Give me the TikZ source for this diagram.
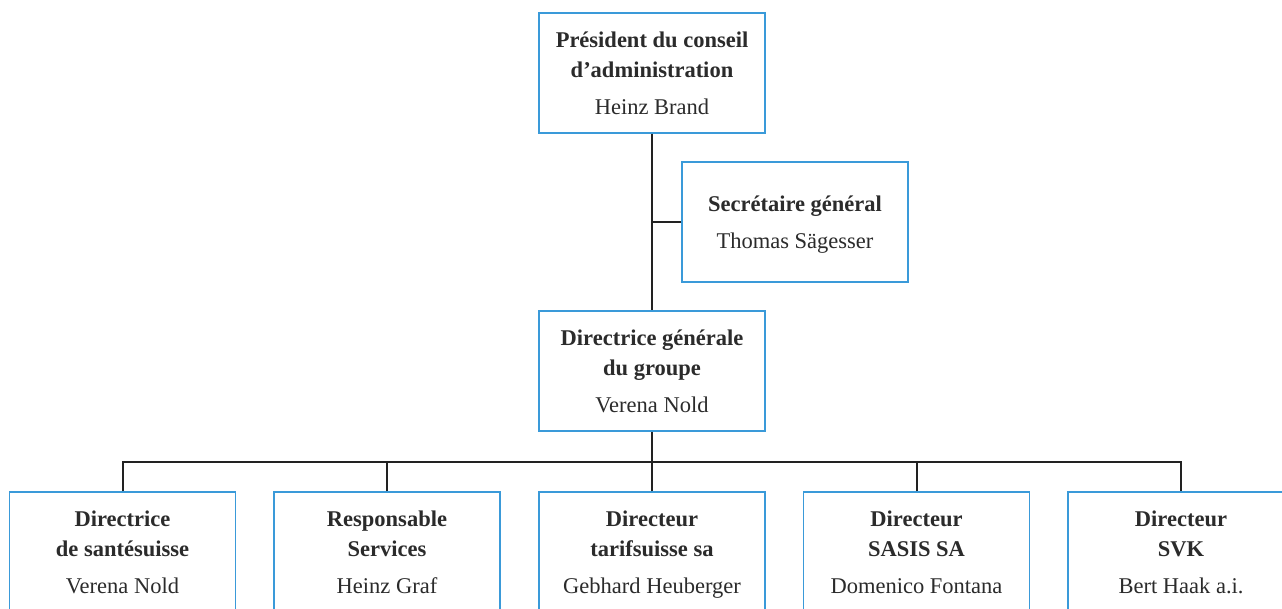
\documentclass[tikz,border=0pt]{standalone}
\usepackage{fontspec}
\setmainfont{Liberation Serif}
\definecolor{boxblue}{HTML}{3A9AD9}
\definecolor{txt}{HTML}{2B2B2B}
\definecolor{linec}{HTML}{222222}
\newcommand{\topstrut}{\rule{0pt}{25.5pt}}
\begin{document}
\begin{tikzpicture}[x=1pt,y=-1pt,
  orgbox/.style={draw=boxblue, line width=1.3pt, fill=white, minimum width=226pt, minimum height=120pt,
    inner sep=0pt, align=center, text=txt, font=\fontsize{22.5}{30}\selectfont},
  conn/.style={draw=linec, line width=2pt}]
\useasboundingbox (0,0) rectangle (1282,608);
\clip (0,0) rectangle (1282,608);
\node[orgbox] (pres) at (652,73) {\topstrut\textbf{Président du conseil}\\\textbf{d’administration}\\[7pt]Heinz Brand\strut};
\node[orgbox] (sec) at (795,222) {\topstrut\textbf{Secrétaire général}\\[7pt]Thomas Sägesser\strut};
\node[orgbox] (dg) at (652,371) {\topstrut\textbf{Directrice générale}\\\textbf{du groupe}\\[7pt]Verena Nold\strut};
\node[orgbox] (b1) at (122.5,552) {\topstrut\textbf{Directrice}\\\textbf{de santésuisse}\\[7pt]Verena Nold\strut};
\node[orgbox] (b2) at (387,552) {\topstrut\textbf{Responsable}\\\textbf{Services}\\[7pt]Heinz Graf\strut};
\node[orgbox] (b3) at (652,552) {\topstrut\textbf{Directeur}\\\textbf{tarifsuisse sa}\\[7pt]Gebhard Heuberger\strut};
\node[orgbox] (b4) at (916.5,552) {\topstrut\textbf{Directeur}\\\textbf{SASIS SA}\\[7pt]Domenico Fontana\strut};
\node[orgbox] (b5) at (1181,552) {\topstrut\textbf{Directeur}\\\textbf{SVK}\\[7pt]Bert Haak a.i.\strut};
\coordinate (bus) at (652,462);
\draw[conn] (pres.south) -- (dg.north);
\draw[conn] (sec.west) -- (sec.west -| pres.south);
\draw[conn] (dg.south) -- (bus);
\draw[conn] (b1.north) |- (bus) -| (b5.north);
\draw[conn] (b2.north) -- (b2.north |- bus);
\draw[conn] (b3.north) -- (bus);
\draw[conn] (b4.north) -- (b4.north |- bus);
\end{tikzpicture}
\end{document}
